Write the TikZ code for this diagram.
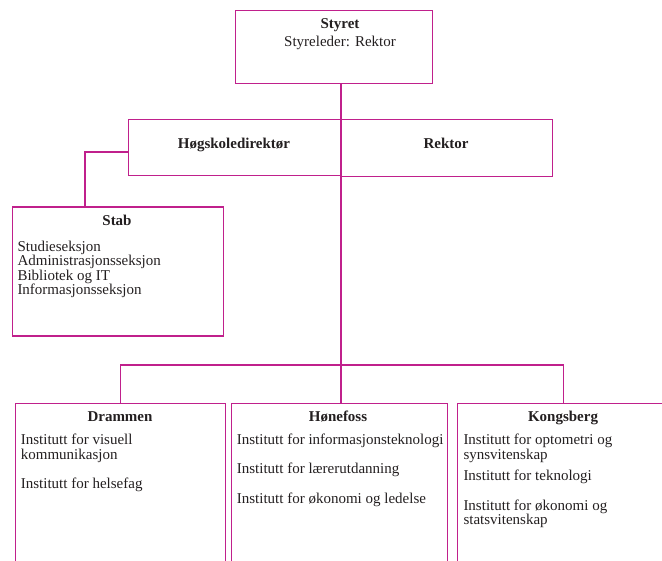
\documentclass[tikz,border=0pt]{standalone}
\usepackage{fontspec}
\setmainfont{Liberation Serif}
\definecolor{hbvlilla}{RGB}{192,32,140}
\definecolor{tekst}{RGB}{35,31,32}
\tikzset{
    boks/.style={draw=hbvlilla, line width=1.2pt, rectangle, anchor = north west, inner sep=0pt},
    linje/.style={draw=hbvlilla, line width=1.2pt},
    tittel/.style={anchor = base, inner sep=0pt, text=tekst, font=\fontsize{15}{14.6}\selectfont\bfseries},
    liste/.style={anchor = north west, align=left, inner sep=0pt, text=tekst, font=\fontsize{15}{14.6}\selectfont}
}
\begin{document}
\begin{tikzpicture}[x=1pt,y=-1pt]
    \useasboundingbox (0,0) rectangle (662,561);
    \clip (0,0) rectangle (662,561);

    % styret og ledelse
    \node[boks, minimum width=197pt, minimum height=73pt] (styret) at (235,10) {};
    \node[tittel] (styretnavn) at (340,28.3) {Styret};
    \node[tittel, font=\fontsize{15}{14.6}\selectfont] (styreleder) at (340,46.5) {Styreleder: Rektor};

    \node[boks, minimum width=212pt, minimum height=56pt] (hogskole) at (128,119) {};
    \node[boks, minimum width=212pt, minimum height=57pt] (rektor) at (340,119) {};
    \node[tittel] (hogskolenavn) at (234,148.3) {Høgskoledirektør};
    \node[tittel] (rektornavn) at (446,148.3) {Rektor};

    % stab
    \node[boks, minimum width=211pt, minimum height=129pt] (stab) at (11.5,206.5) {};
    \node[tittel] (stabnavn) at (117,226) {Stab};
    \node[liste] (stabliste) at (17.3,240.5) {Studieseksjon\\Administrasjonsseksjon\\Bibliotek og IT\\Informasjonsseksjon};

    % avdelingene
    \node[boks, minimum width=210pt, minimum height=200pt] (drammen) at (15,403) {};
    \node[boks, minimum width=216pt, minimum height=200pt] (honefoss) at (231,403) {};
    \node[boks, minimum width=212pt, minimum height=200pt] (kongsberg) at (457,403) {};

    \node[tittel] (drammennavn) at (120,421.7) {Drammen};
    \node[tittel] (honefossnavn) at (338,421.7) {Hønefoss};
    \node[tittel] (kongsbergnavn) at (563,421.7) {Kongsberg};

    \node[liste] (drammenliste) at (20.7,433.8) {Institutt for visuell\\kommunikasjon\\[15pt]Institutt for helsefag};
    \node[liste] (honefossliste) at (236.7,433.8) {Institutt for informasjonsteknologi\\[14.7pt]Institutt for lærerutdanning\\[15pt]Institutt for økonomi og ledelse};
    \node[liste] (kongsbergliste) at (463.3,433.8) {Institutt for optometri og\\synsvitenskap\\[7pt]Institutt for teknologi\\[15pt]Institutt for økonomi og\\statsvitenskap};

    % linjer
    \coordinate (buss) at (341,365);
    \coordinate (stabknekk) at (85,152);
    \draw[linje] (styret.south -| buss) -- (buss);
    \draw[linje] (drammen.north) |- (buss) -| (kongsberg.north);
    \draw[linje] (buss) -- (buss |- honefoss.north);
    \draw[linje] (hogskole.west |- stabknekk) -- (stabknekk) -- (stabknekk |- stab.north);
\end{tikzpicture}
\end{document}
